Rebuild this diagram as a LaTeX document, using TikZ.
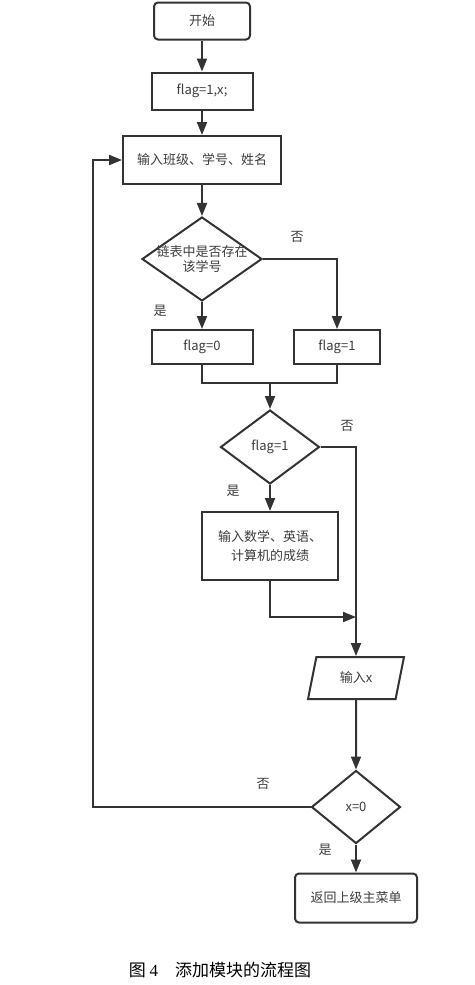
\documentclass[tikz,border=0pt]{standalone}
\usepackage{fontspec}
\setmainfont{Noto Sans CJK SC}
\newfontfamily\capfont{Liberation Serif}
\usetikzlibrary{shapes.geometric,arrows.meta}
\definecolor{linec}{HTML}{333333}
\definecolor{textc}{HTML}{3C3C3C}

\begin{document}
\begin{tikzpicture}[x=1pt,y=-1pt,
  every node/.style={font=\fontsize{13}{19}\selectfont,text=textc},
  box/.style={draw=linec,line width=2pt,rectangle,inner sep=0pt},
  term/.style={box,rounded corners=4pt},
  cond/.style={draw=linec,line width=2pt,diamond,inner sep=0pt},
  io/.style={draw=linec,line width=2pt,trapezium,trapezium left angle=74,trapezium right angle=106,trapezium stretches=true,inner sep=0pt},
  flow/.style={draw=linec,line width=2pt,-{Triangle[length=13pt,width=10pt]}},
  link/.style={draw=linec,line width=2pt},
  lab/.style={inner sep=0pt}]
\useasboundingbox (0,0) rectangle (474,985);
\draw (202,21) node[term,minimum width=96pt,minimum height=37pt] (start) {开始};
\draw (202,91) node[box,minimum width=101pt,minimum height=37pt] (init) {flag=1,x;};
\draw (202,160) node[box,minimum width=158pt,minimum height=48pt] (input) {输入班级、学号、姓名};
\draw (202,259) node[cond,minimum width=120pt,minimum height=84pt] (exist) {\makebox[0pt]{\shortstack{链表中是否存在\\该学号}}};
\draw (202,347) node[box,minimum width=101pt,minimum height=34pt] (zero) {flag=0};
\draw (337,347) node[box,minimum width=86pt,minimum height=34pt] (one) {flag=1};
\draw (270,447) node[cond,minimum width=99pt,minimum height=74pt] (check) {flag=1};
\draw (270,546) node[box,minimum width=136pt,minimum height=68pt,align=center] (score) {输入数学、英语、\\计算机的成绩};
\draw (356,678) node[io,minimum width=96pt,minimum height=42pt] (getx) {输入x};
\draw (356,807) node[cond,minimum width=89pt,minimum height=73pt] (test) {x=0};
\draw (356,898) node[term,minimum width=122pt,minimum height=49pt] (back) {返回上级主菜单};
% yes / no labels
\draw (297,237) node[lab] (no1) {否};
\draw (160,311) node[lab] (yes1) {是};
\draw (347,426) node[lab] (no2) {否};
\draw (233,491) node[lab] (yes2) {是};
\draw (263,784) node[lab] (no3) {否};
\draw (325,850) node[lab] (yes3) {是};
\coordinate (join) at (270,383);
\coordinate (meet) at (356,617);
\coordinate (loop) at (93,807);
\draw[flow] (start) -- (init);
\draw[flow] (init) -- (input);
\draw[flow] (input) -- (exist);
\draw[flow] (exist.east) -| (one.north);
\draw[flow] (exist.south) -- (zero.north);
\draw[link] (zero.south) |- (join) -| (one.south);
\draw[flow] (join) -- (check.north);
\draw[flow] (check.east) -| (getx.north);
\draw[flow] (check.south) -- (score.north);
\draw[flow] (score.south) |- (meet);
\draw[flow] (getx.south) -- (test.north);
\draw[flow] (test.west) -- (loop) |- (input.west);
\draw[flow] (test.south) -- (back.north);
% caption
\draw (220,970) node[lab,font=\fontsize{17}{20}\selectfont,text=black] (caption) {图 {\capfont 4}\quad 添加模块的流程图};
\end{tikzpicture}
\end{document}
